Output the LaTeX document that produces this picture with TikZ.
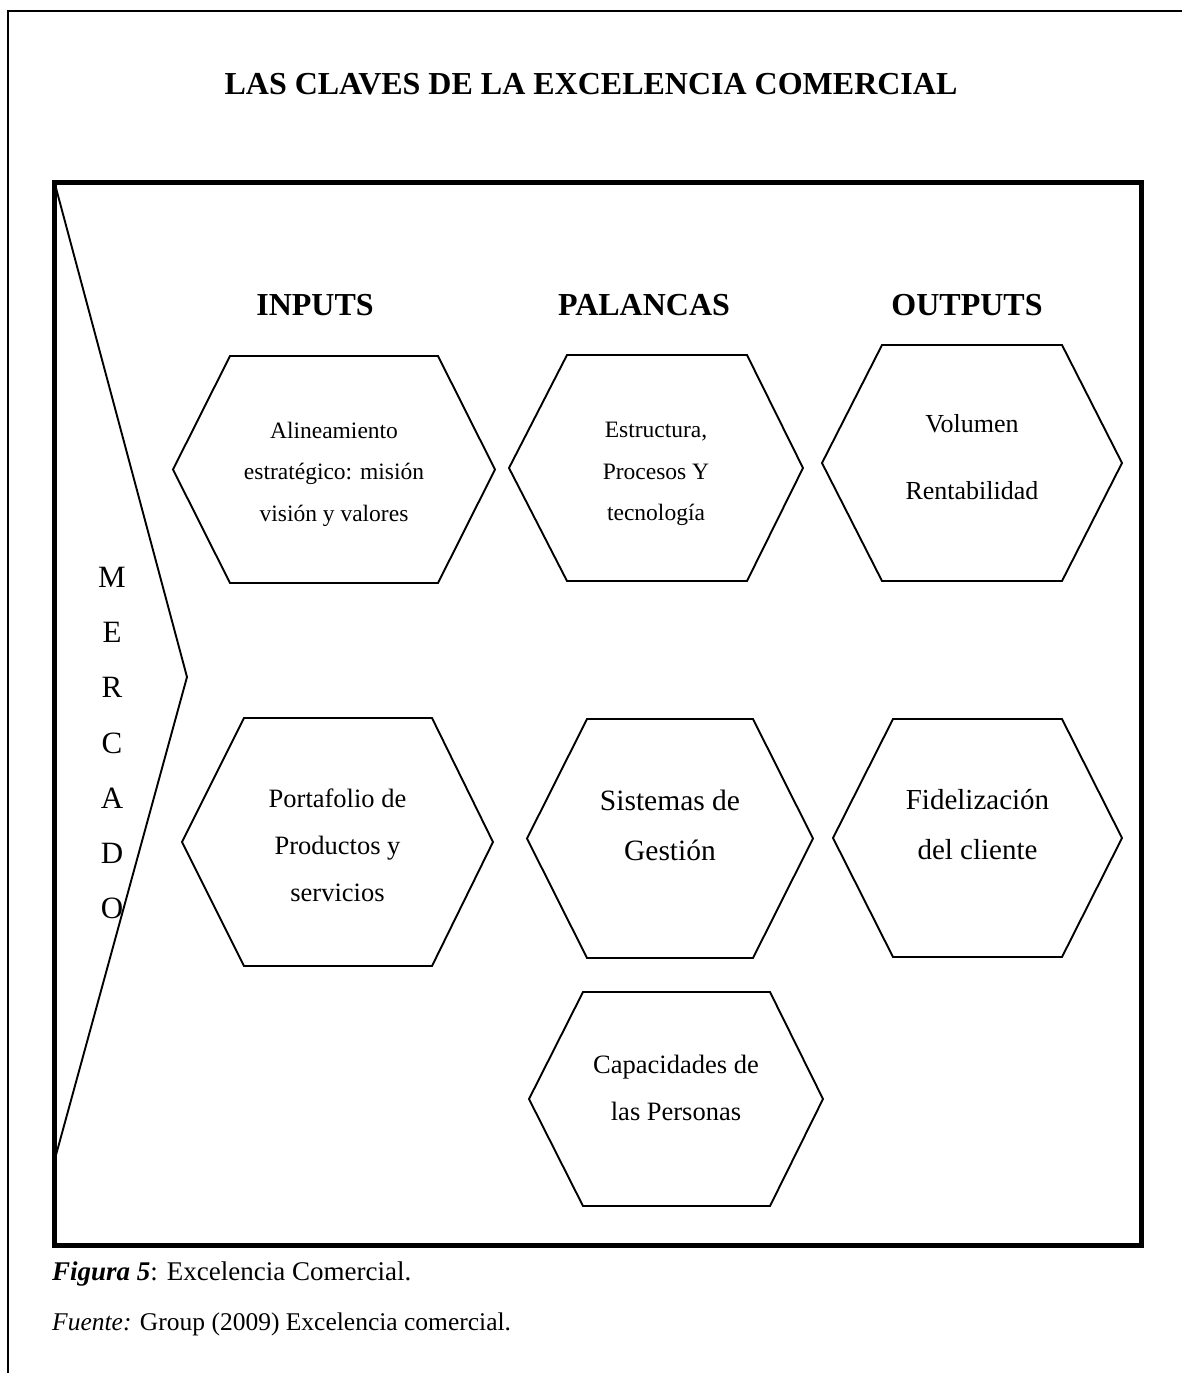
\documentclass[tikz,border=0pt]{standalone}
\usepackage{fontspec}
\setmainfont{Liberation Serif}
\begin{document}
\begin{tikzpicture}[x=1pt,y=-1pt,
  frameline/.style={line width=2pt},
  boxline/.style={line width=5.5pt,line join=miter},
  hexline/.style={line width=1.9pt,line join=miter},
  header/.style={font=\fontsize{32}{38}\selectfont\bfseries,inner sep=0pt},
  hextext/.style={align=center,inner sep=0pt},
]
\useasboundingbox (0,0) rectangle (1182,1373);

% page frame (top and left rule)
\draw[frameline] (1182,11) -- (8,11) -- (8,1373);

% title
\node[header] (title) at (591,84.5) {LAS CLAVES DE LA EXCELENCIA COMERCIAL};

% main box
\draw[boxline] (54.5,182.5) rectangle (1141.5,1245.5);

% market chevron
\coordinate (mtop) at (56,188);
\coordinate (mtip) at (187,677);
\coordinate (mbot) at (56,1155);
\draw[hexline] (mtop) -- (mtip) -- (mbot);
\node[align=center,inner sep=0pt,font=\fontsize{31}{55.2}\selectfont] (mercado) at (112,743)
  {M\\E\\R\\C\\A\\D\\O};

% column headers
\node[header] (inputs) at (315,305) {INPUTS};
\node[header] (palancas) at (644,305) {PALANCAS};
\node[header] (outputs) at (967,305) {OUTPUTS};

% hexagon: left x, inner-left x, inner-right x, right x, top y, bottom y
\newcommand\hexagon[6]{%
  \draw[hexline] (#1,{(#5+#6)/2}) -- (#2,#5) -- (#3,#5) -- (#4,{(#5+#6)/2})
    -- (#3,#6) -- (#2,#6) -- cycle;}

\hexagon{173}{230}{438}{495}{356}{583}
\hexagon{509}{567}{747}{803}{355}{581}
\hexagon{822}{882}{1062}{1122}{345}{581}
\hexagon{182}{244}{432}{493}{718}{966}
\hexagon{527}{587}{753}{813}{719}{958}
\hexagon{833}{893}{1062}{1122}{719}{957}
\hexagon{529}{583}{770}{823}{992}{1206}

% hexagon labels
\node[hextext,font=\fontsize{23.5}{41.5}\selectfont] (alin) at (334,474)
  {Alineamiento\\estratégico: misión\\visión y valores};
\node[hextext,font=\fontsize{23.5}{41.5}\selectfont] (estr) at (656,474)
  {Estructura,\\Procesos Y\\tecnología};
\node[hextext,font=\fontsize{26}{67}\selectfont] (vol) at (972,457)
  {Volumen\\Rentabilidad};
\node[hextext,font=\fontsize{26.5}{47}\selectfont] (port) at (337.5,845)
  {Portafolio de\\Productos y\\servicios};
\node[hextext,font=\fontsize{29.5}{50}\selectfont] (sist) at (670,825)
  {Sistemas de\\Gestión};
\node[hextext,font=\fontsize{29}{50}\selectfont] (fide) at (977.5,825)
  {Fidelización\\del cliente};
\node[hextext,font=\fontsize{26.5}{47}\selectfont] (capa) at (676,1088)
  {Capacidades de\\las Personas};

% caption and source
\node[anchor=base west,inner sep=0pt,font=\fontsize{27}{32}\selectfont] (fig) at (52,1280)
  {\textbf{\textit{Figura 5}}: Excelencia Comercial.};
\node[anchor=base west,inner sep=0pt,font=\fontsize{25.5}{32}\selectfont] (src) at (52,1330)
  {\textit{Fuente:} Group (2009) Excelencia comercial.};
\end{tikzpicture}
\end{document}
